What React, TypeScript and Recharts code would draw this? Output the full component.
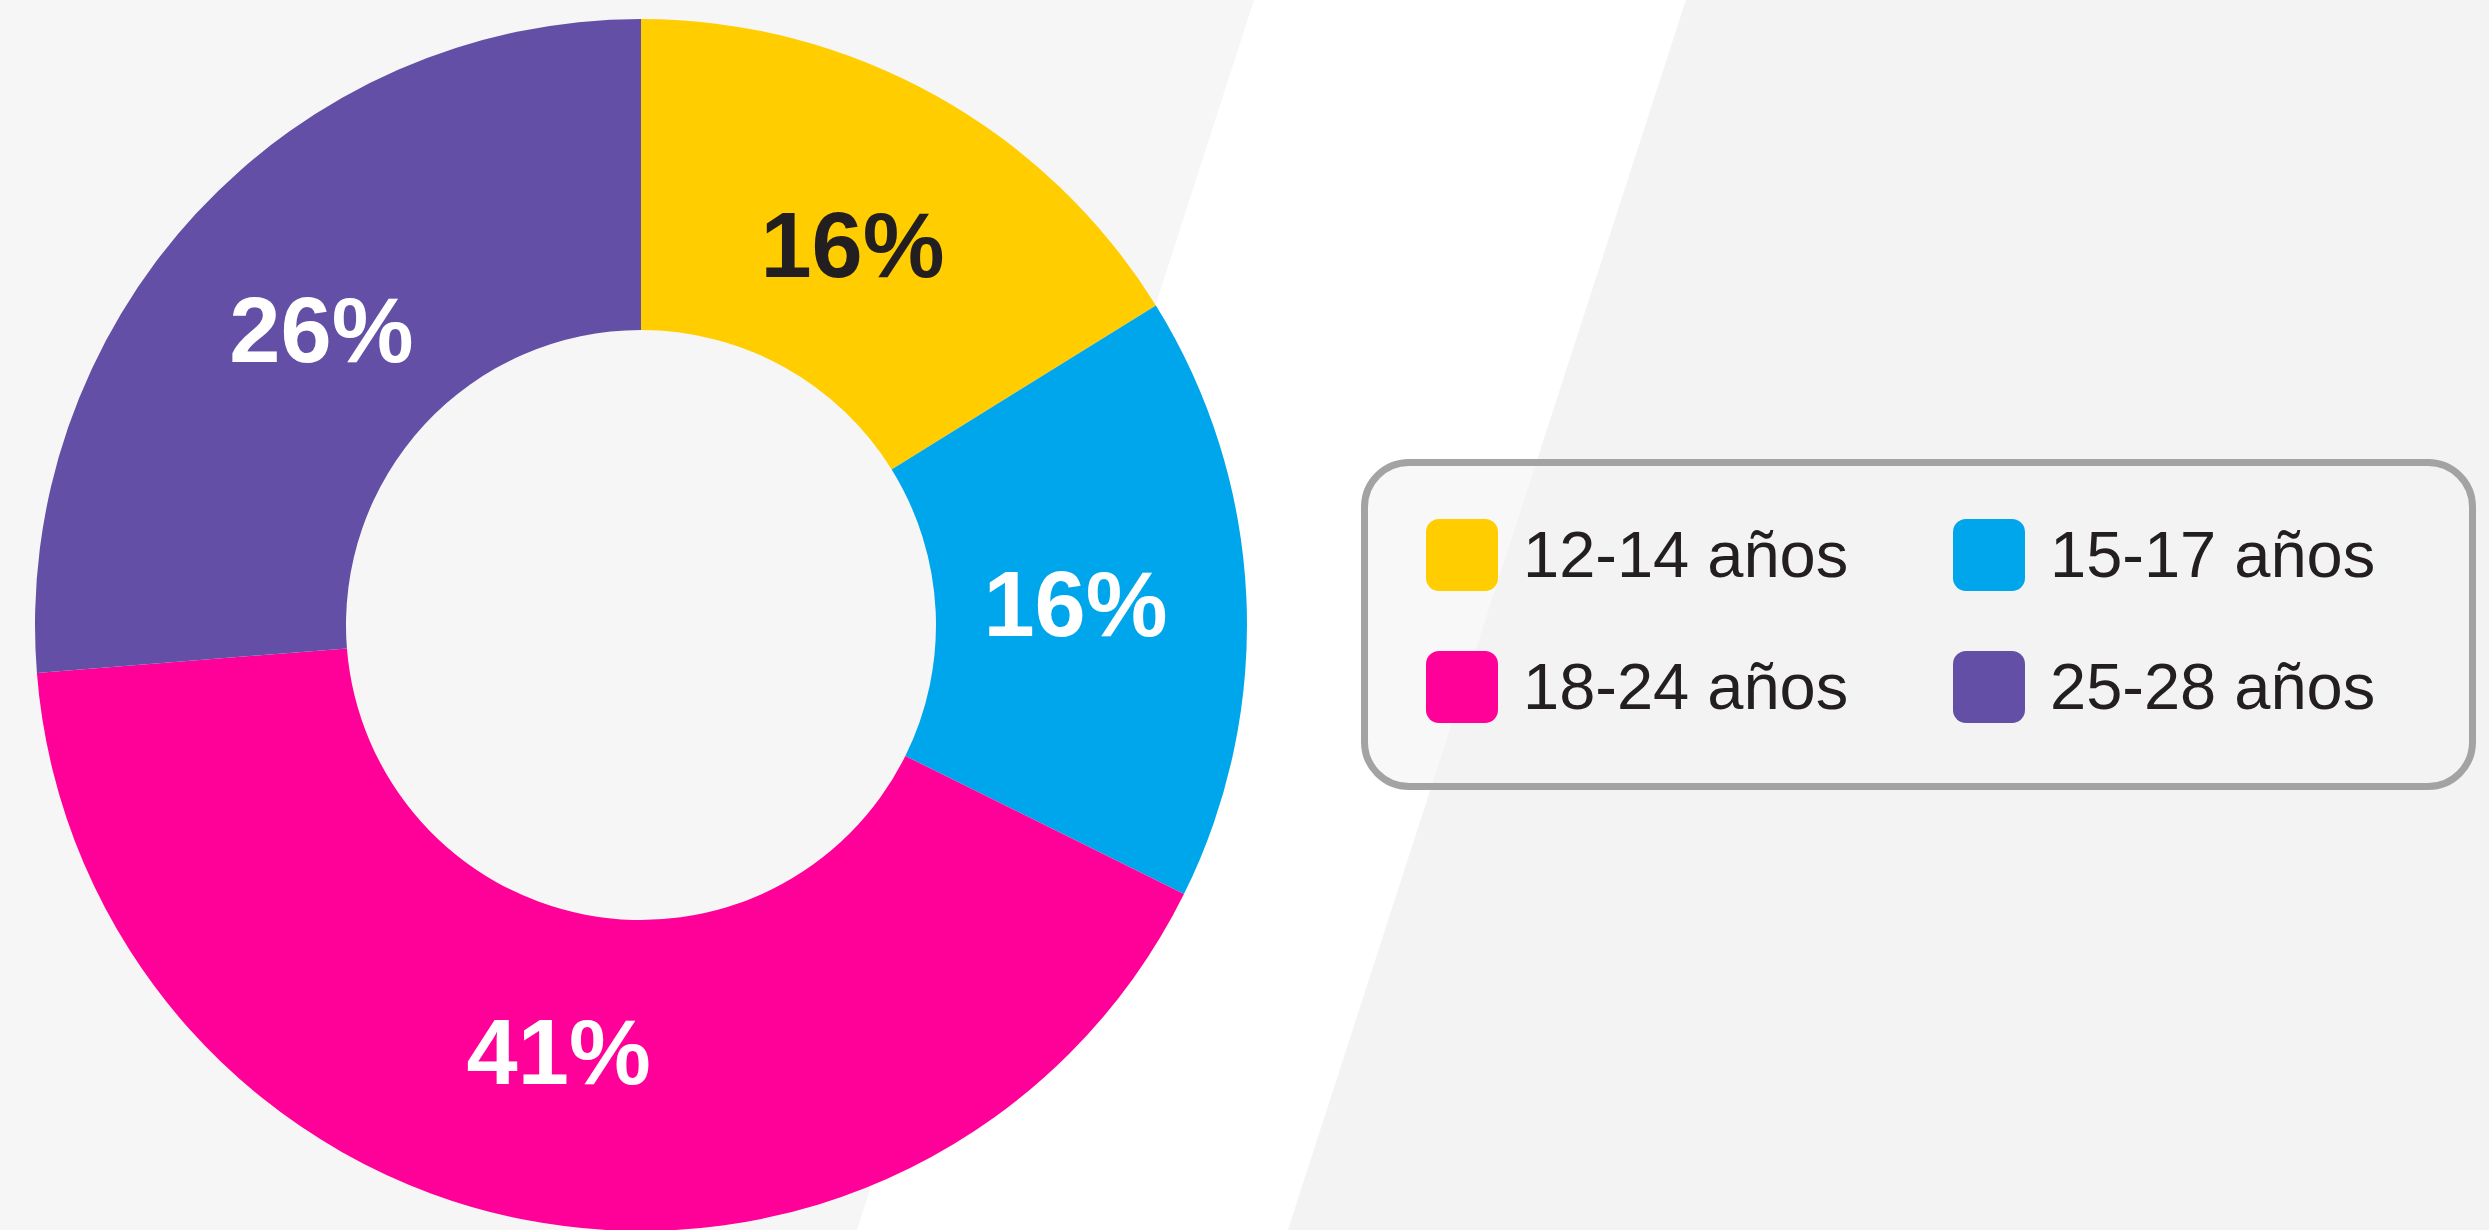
import React from "react";
import { PieChart, Pie, Cell, Legend } from "recharts";

const W = 2489;
const H = 1230;

const CATEGORIES = ["12-14 años", "15-17 años", "18-24 años", "25-28 años"];
const VALUES = [16, 16, 41, 26];
const COLORS = ["#FFCD00", "#00A6EB", "#FF0099", "#6350A6"];
const LABEL_COLORS = ["#231F20", "#FFFFFF", "#FFFFFF", "#FFFFFF"];

const data = CATEGORIES.map((name, i) => ({ name, value: VALUES[i] }));

const FONT = "'Liberation Sans', Arial, sans-serif";

const renderLabel = (props: any) => {
  const { cx, cy, midAngle, index, value } = props;
  const r = 435;
  const rad = (-midAngle * Math.PI) / 180;
  return (
    <text
      x={cx + r * Math.cos(rad)}
      y={cy + r * Math.sin(rad)}
      fill={LABEL_COLORS[index]}
      textAnchor="middle"
      dominantBaseline="central"
      fontFamily={FONT}
      fontWeight={700}
      fontSize={92}
    >
      {value}%
    </text>
  );
};

// legend box: two columns, two rows
const renderLegend = () => (
  <div
    style={{
      position: "relative",
      width: 1115,
      height: 331,
      boxSizing: "border-box",
      border: "7px solid #A3A3A3",
      borderRadius: 48,
      background: "rgba(243,243,243,0.6)",
    }}
  >
    {CATEGORIES.map((c, i) => (
      <div
        key={c}
        style={{
          position: "absolute",
          left: 58 + (i % 2) * 527,
          top: 53 + Math.floor(i / 2) * 132,
          display: "flex",
          alignItems: "center",
          whiteSpace: "nowrap",
        }}
      >
        <div style={{ width: 72, height: 72, borderRadius: 13, background: COLORS[i] }} />
        <span style={{ marginLeft: 25, fontSize: 65, fontFamily: FONT, color: "#231F20", lineHeight: "72px" }}>
          {c}
        </span>
      </div>
    ))}
  </div>
);

export default function App() {
  return (
    <div style={{ position: "absolute", left: 0, top: 0, width: W, height: H, overflow: "hidden" }}>
      <svg width={W} height={H} style={{ position: "absolute", left: 0, top: 0 }}>
        <rect x={0} y={0} width={W} height={H} fill="#F6F6F6" />
        <polygon points="1254,0 1686,0 1288,1230 857,1230" fill="#FFFFFF" />
        <polygon points="1686,0 2489,0 2489,1230 1288,1230" fill="#F3F3F3" />
      </svg>
      <div style={{ position: "absolute", left: 0, top: 0 }}>
        <PieChart width={W} height={H} margin={{ top: 0, right: 0, bottom: 0, left: 0 }}>
          <Pie
            data={data}
            dataKey="value"
            nameKey="name"
            cx={641}
            cy={625}
            innerRadius={295}
            outerRadius={606}
            startAngle={90}
            endAngle={-270}
            stroke="none"
            label={renderLabel}
            labelLine={false}
            isAnimationActive={false}
          >
            {data.map((d, i) => (
              <Cell key={d.name} fill={COLORS[i]} />
            ))}
          </Pie>
          <Legend
            layout="vertical"
            align="right"
            verticalAlign="top"
            content={renderLegend}
            wrapperStyle={{ left: 1361, top: 459, width: 1115, height: 331 }}
          />
        </PieChart>
      </div>
    </div>
  );
}
